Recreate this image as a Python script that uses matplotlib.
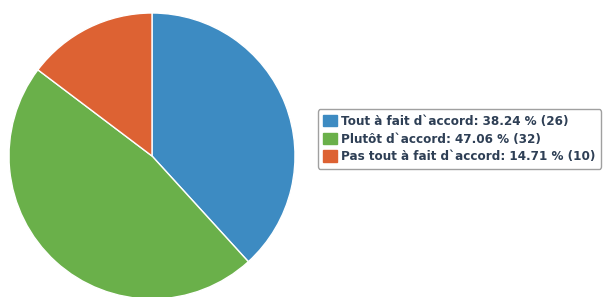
import matplotlib.pyplot as plt
from matplotlib.patches import Patch

labels = ["Tout à fait d`accord", "Plutôt d`accord", "Pas tout à fait d`accord"]
counts = [26, 32, 10]
percents = [38.24, 47.06, 14.71]
colors = ["#3d8bc2", "#6ab04a", "#dd6233"]

fig = plt.figure(figsize=(6.06, 2.97), dpi=100)
ax = fig.add_axes([9/606, -2/297, 286/606, 286/297])
wedges, _ = ax.pie(counts, colors=colors, startangle=90, counterclock=False,
                   radius=1, wedgeprops=dict(edgecolor="white", linewidth=1))
for w in wedges:
    w.set_clip_on(False)
ax.set_xlim(-1, 1)
ax.set_ylim(-1, 1)
ax.set_aspect("equal")
ax.axis("off")

handles = [Patch(facecolor=c, edgecolor=c) for c in colors]
texts = [f"{l}: {p:.2f} % ({n})" for l, n, p in zip(labels, counts, percents)]
leg = fig.legend(handles, texts, loc="center left", bbox_to_anchor=(318/606, 1 - 139/297),
                 prop=dict(family="DejaVu Sans", weight="bold", size=8.65),
                 handlelength=1.1, handleheight=1.1, handletextpad=0.4,
                 labelspacing=0.4, borderpad=0.45, borderaxespad=0,
                 frameon=True, fancybox=True, edgecolor="#888888")
for t in leg.get_texts():
    t.set_color("#2e3f55")
leg.get_frame().set_linewidth(1)

fig.savefig("out.png", dpi=100)
